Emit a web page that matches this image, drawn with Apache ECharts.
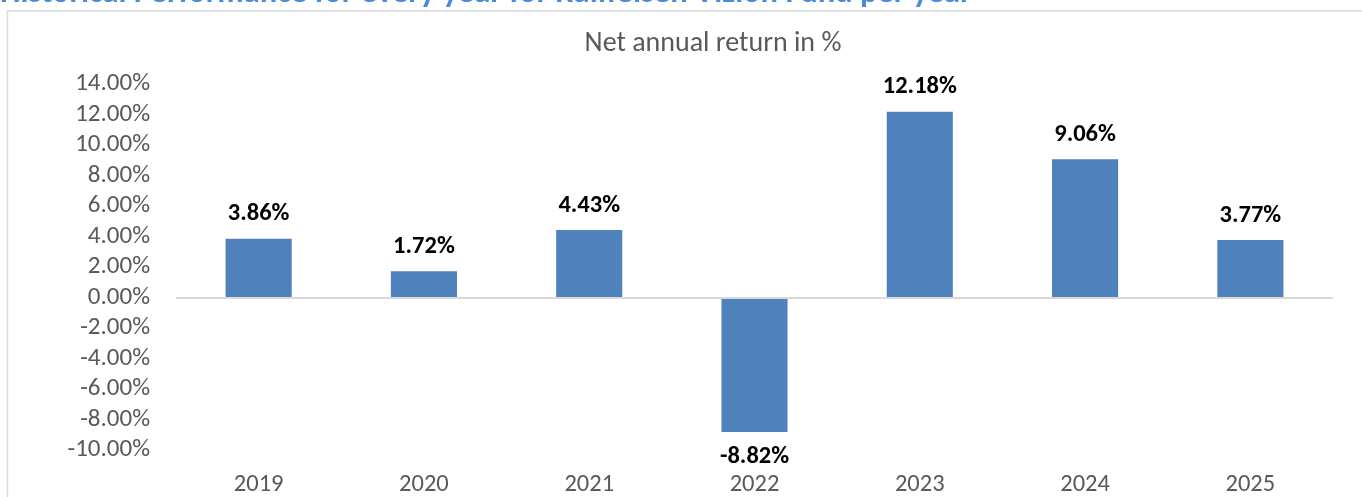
<!DOCTYPE html>
<html>
<head>
<meta charset="utf-8">
<script src="https://cdn.jsdelivr.net/npm/echarts@6/dist/echarts.min.js"></script>
<style>
html,body{margin:0;padding:0;background:#fff;}
#chart{width:1362px;height:497px;}
</style>
</head>
<body>
<div id="chart"></div>
<script>
const pageTitle = 'Historical Performance for every year for Raiffeisen Vizion Fund per year';
const chartTitle = 'Net annual return in %';
const categories = ['2019','2020','2021','2022','2023','2024','2025'];
const returns = [3.86, 1.72, 4.43, -8.82, 12.18, 9.06, 3.77];
const yMin = -10, yMax = 14, yStep = 2;

const FONT = 'Carlito, Lato, "Liberation Sans", sans-serif';
const chart = echarts.init(document.getElementById('chart'), null, {renderer:'canvas'});

const barData = returns.map(v => ({
  value: v,
  label: { position: v < 0 ? 'bottom' : 'top' }
}));

chart.setOption({
  animation: false,
  backgroundColor: '#ffffff',
  graphic: [
    {
      type: 'rect',
      shape: { x: 7.5, y: 11, width: 1500, height: 600 },
      style: { fill: 'none', stroke: '#d9d9d9', lineWidth: 1.5 },
      silent: true
    },
    {
      type: 'text',
      x: 0, y: -6,
      style: {
        text: pageTitle,
        font: 'bold 32.5px ' + FONT,
        fill: '#4a89dc',
        verticalAlign: 'middle'
      },
      silent: true
    },
    {
      type: 'text',
      x: 713, y: 44,
      style: {
        text: chartTitle,
        font: '28px ' + FONT,
        fill: '#595959',
        align: 'center',
        verticalAlign: 'middle'
      },
      silent: true
    }
  ],
  grid: { left: 176, right: 29, top: 84, bottom: 46, containLabel: false },
  xAxis: {
    type: 'category',
    data: categories,
    position: 'bottom',
    axisLine: { show: false, onZero: false },
    axisTick: { show: false },
    axisLabel: { margin: 22, fontFamily: FONT, fontSize: 24.5, color: '#595959' },
    splitLine: { show: false }
  },
  yAxis: {
    type: 'value',
    min: yMin, max: yMax, interval: yStep,
    axisLine: { show: false },
    axisTick: { show: false },
    splitLine: { show: false },
    axisLabel: {
      margin: 26,
      fontFamily: FONT, fontSize: 25, color: '#595959',
      formatter: v => v.toFixed(2) + '%'
    }
  },
  series: [{
    type: 'bar',
    data: barData,
    barCategoryGap: '60%',
    itemStyle: { color: '#4f81bd' },
    label: {
      show: true,
      distance: 12,
      fontFamily: FONT, fontSize: 24.5, fontWeight: 'bold', color: '#000000',
      formatter: p => p.value.toFixed(2) + '%'
    },
    markLine: {
      silent: true,
      symbol: 'none',
      label: { show: false },
      lineStyle: { color: '#d9d9d9', width: 2, type: 'solid' },
      data: [{ yAxis: 0 }]
    }
  }]
});
</script>
</body>
</html>
